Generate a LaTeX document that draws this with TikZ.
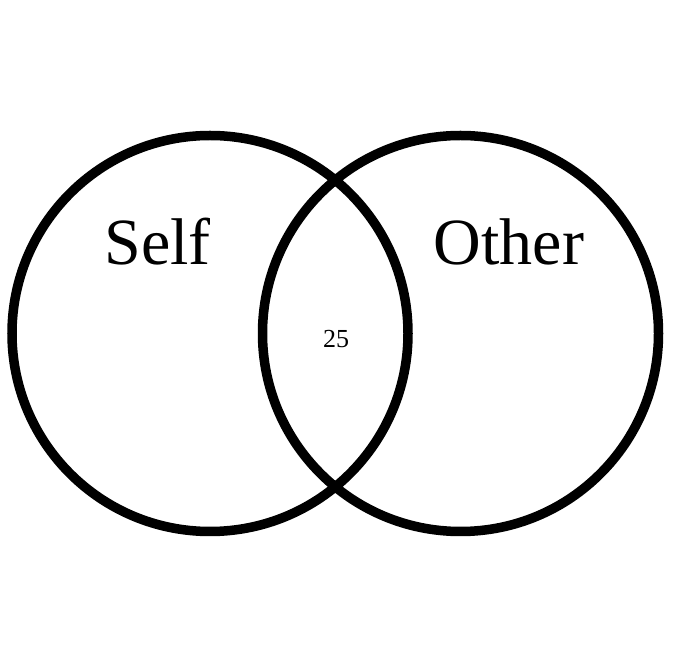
\documentclass[tikz,border=0pt]{standalone}
\usepackage{fontspec}
\setmainfont{Liberation Serif}
\begin{document}
\begin{tikzpicture}[x=1pt,y=1pt]
\useasboundingbox (0,0) rectangle (672,672);
\tikzset{set/.style={draw,circle,line width=9.5pt,minimum size=396pt,inner sep=0pt}}
\node[set] (S) at (210,338.5) {};
\node[set] (O) at (460.5,338.5) {};

\node[anchor=base,inner sep=0pt,font=\fontsize{66}{66}\selectfont] (selflabel) at (157.5,407) {Self};
\node[anchor=base,inner sep=0pt,font=\fontsize{66}{66}\selectfont] (otherlabel) at (509,407) {Other};
\node[anchor=base,inner sep=0pt,font=\fontsize{26}{26}\selectfont] (both) at (336,324) {25};
\end{tikzpicture}
\end{document}
